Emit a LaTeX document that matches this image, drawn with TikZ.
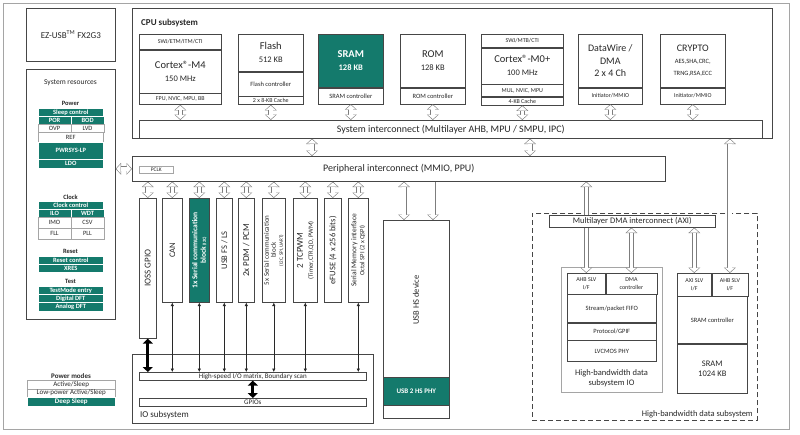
\documentclass[tikz,border=0pt]{standalone}
\usepackage{fontspec}
\setmainfont{Carlito}
\usepackage{tikz}
\usetikzlibrary{positioning,arrows.meta}
\definecolor{ifxteal}{RGB}{20,122,108}
\definecolor{linegray}{RGB}{70,70,70}
\definecolor{framegray}{RGB}{165,165,165}
\definecolor{textgray}{RGB}{40,40,40}
\definecolor{arrowgray}{RGB}{125,125,125}
\newcommand{\setfs}[2]{\fontsize{#1}{#2}\selectfont}
\newcommand{\regmark}{\textregistered}

\begin{document}
\begin{tikzpicture}[x=1pt, y=-1pt,
    blk/.style={draw=linegray, fill=white, line width=0.6pt, inner sep=0pt, anchor=north west, align=center, text=textgray, font=\setfs{6.5}{7.5}},
    sz/.style 2 args={minimum width=#1pt, minimum height=#2pt},
    tealrow/.style={blk, draw=white, fill=ifxteal, text=white, font=\bfseries\setfs{6.5}{7.5}},
    whiterow/.style={blk, draw=framegray, line width=0.5pt},
    lbl/.style={inner sep=0pt, text=textgray, align=center},
    rotlbl/.style={lbl, rotate=90},
    head/.style={lbl, font=\bfseries\setfs{6.5}{7.5}},
    hollow/.style={draw=arrowgray, line width=5pt,
        {Triangle[width=12pt,length=5.5pt,line width=0pt]}-{Triangle[width=12pt,length=5.5pt,line width=0pt]},
        postaction={draw=white, line width=3.6pt,
        {Triangle[width=9.6pt,length=4.2pt,line width=0pt]}-{Triangle[width=9.6pt,length=4.2pt,line width=0pt]},
        shorten <=0.9pt, shorten >=0.9pt}},
    hollowdown/.style={draw=arrowgray, line width=5pt,
        -{Triangle[width=12pt,length=5.5pt,line width=0pt]},
        postaction={draw=white, line width=3.6pt,
        -{Triangle[width=9.6pt,length=4.2pt,line width=0pt]},
        shorten <=0.3pt, shorten >=0.9pt}},
    fatarrow/.style={line width=3.2pt, {Triangle[width=10pt,length=5pt]}-{Triangle[width=10pt,length=5pt]}},
    thinarrow/.style={draw=textgray, line width=0.5pt, {Latex[length=3.5pt,width=3.5pt]}-{Latex[length=3.5pt,width=3.5pt]}}
]
\useasboundingbox (0,0) rectangle (800,434);
\node[blk, sz={786}{426}, draw=framegray, fill=none] (chip) at (3,3) {};

% left column
\node[blk, sz={89}{53}, font=\setfs{9}{10}] (ezusb) at (26,8) {EZ-USB\textsuperscript{TM} FX2G3};
\node[blk, sz={89}{250}] (sysres) at (26,69) {};
\node[lbl, font=\setfs{7.5}{8}] (sysrest) at (70.5,83) {System resources};

\node[head] (powert) at (70.5,103) {Power};
\node[tealrow, sz={65}{8}] (sleep) at (38,108) {Sleep control};
\node[tealrow, sz={32.5}{8}] (por) at (38,116) {POR};
\node[tealrow, sz={32.5}{8}, right=0pt of por] (bod) {BOD};
\node[whiterow, sz={32.5}{8}] (ovp) at (38,124) {OVP};
\node[whiterow, sz={32.5}{8}, right=0pt of ovp] (lvd) {LVD};
\node[whiterow, sz={65}{10}] (ref) at (38,132) {REF};
\node[tealrow, sz={65}{17}] (pwrsys) at (38,142) {PWRSYS-LP};
\node[tealrow, sz={65}{9}] (ldo) at (38,159) {LDO};

\node[head] (clockt) at (70.5,197) {Clock};
\node[tealrow, sz={65}{8}] (clkctl) at (38,201) {Clock control};
\node[tealrow, sz={32.5}{8}] (ilo) at (38,209) {ILO};
\node[tealrow, sz={32.5}{8}, right=0pt of ilo] (wdt) {WDT};
\node[whiterow, sz={32.5}{11}] (imo) at (38,217) {IMO};
\node[whiterow, sz={32.5}{11}, right=0pt of imo] (csv) {CSV};
\node[whiterow, sz={32.5}{11}] (fll) at (38,228) {FLL};
\node[whiterow, sz={32.5}{11}, right=0pt of fll] (pll) {PLL};

\node[head] (resett) at (70.5,251) {Reset};
\node[tealrow, sz={65}{8}] (rstctl) at (38,256) {Reset control};
\node[tealrow, sz={65}{8}] (xres) at (38,264) {XRES};

\node[head] (testt) at (70.5,281) {Test};
\node[tealrow, sz={65}{8}] (tmode) at (38,286) {TestMode entry};
\node[tealrow, sz={65}{8}] (ddft) at (38,294) {Digital DFT};
\node[tealrow, sz={65}{9}] (adft) at (38,302) {Analog DFT};

\node[head, font=\bfseries\setfs{7}{8}] (pmodest) at (71,376) {Power modes};
\node[whiterow, sz={88}{8.5}, font=\setfs{7}{8}] (active) at (27,380) {Active/Sleep};
\node[whiterow, sz={88}{8.5}, font=\setfs{7}{8}] (lpactive) at (27,388.5) {Low-power Active/Sleep};
\node[tealrow, sz={88}{9}, font=\bfseries\setfs{7}{8}] (deep) at (27,397) {Deep Sleep};

% CPU subsystem
\node[blk, sz={640}{130}] (cpu) at (132,8) {};
\node[lbl, anchor=west, font=\bfseries\setfs{9}{10}] (cput) at (141,23) {CPU subsystem};

\node[blk, sz={82}{15}, font=\setfs{6}{7}] (m4a) at (139,34) {SWJ/ETM/ITM/CTI};
\node[blk, sz={82}{43}, below=0pt of m4a, font=\setfs{10.5}{13}] (m4) {Cortex\regmark-M4\\{\setfs{8.5}{10}150 MHz}};
\node[blk, sz={82}{11}, below=0pt of m4, font=\setfs{6}{7}] (m4c) {FPU, NVIC, MPU, BB};

\node[blk, sz={65}{37}, font=\setfs{10.5}{13}] (flash) at (238,34) {Flash\\{\setfs{8.5}{10}512 KB}};
\node[blk, sz={65}{24}, below=0pt of flash] (flashc) {Flash controller};
\node[blk, sz={65}{8}, below=0pt of flashc, font=\setfs{6}{7}] (flashk) {2 x 8-KB Cache};

\node[blk, sz={65}{53}, fill=ifxteal, text=white, font=\bfseries\setfs{10.5}{13}] (sram) at (318,34) {SRAM\\{\setfs{8.5}{10}128 KB}};
\node[blk, sz={65}{16}, below=0pt of sram] (sramc) {SRAM controller};

\node[blk, sz={65}{53}, font=\setfs{10.5}{13}] (rom) at (400,34) {ROM\\{\setfs{8.5}{10}128 KB}};
\node[blk, sz={65}{16}, below=0pt of rom] (romc) {ROM controller};

\node[blk, sz={82}{13}, font=\setfs{6}{7}] (m0a) at (481,34) {SWJ/MTB/CTI};
\node[blk, sz={82}{36}, below=0pt of m0a, font=\setfs{10.5}{13}] (m0) {Cortex\regmark-M0+\\{\setfs{8.5}{10}100 MHz}};
\node[blk, sz={82}{12}, below=0pt of m0, font=\setfs{6}{7}] (m0c) {MUL, NVIC, MPU};
\node[blk, sz={82}{8}, below=0pt of m0c, font=\setfs{6}{7}] (m0k) {4-KB Cache};

\node[blk, sz={64}{53}, font=\setfs{10}{12.5}] (dw) at (578,34) {DataWire /\\DMA\\2 x 4 Ch};
\node[blk, sz={64}{16}, below=0pt of dw, font=\setfs{6}{7}] (dwc) {Initiator/MMIO};

\node[blk, sz={65}{53}, font=\setfs{10}{12}] (crypto) at (660,34) {CRYPTO\\{\setfs{6.5}{10}AES,SHA,CRC,}\\{\setfs{6.5}{9}TRNG,RSA,ECC}};
\node[blk, sz={65}{16}, below=0pt of crypto, font=\setfs{6}{7}] (cryptoc) {Initiator/MMIO};

\node[blk, sz={623}{18}, font=\setfs{10}{11}] (sysic) at (139,120) {System interconnect (Multilayer AHB, MPU / SMPU, IPC)};
\node[blk, sz={533}{25}, font=\setfs{10}{11}] (periph) at (132,156) {Peripheral interconnect (MMIO, PPU)};
\node[blk, sz={34}{7}, draw=framegray, line width=0.5pt, font=\setfs{5.5}{6}] (pclk) at (139,166) {PCLK};

% peripherals
\node[blk, sz={17}{140}] (ioss) at (139,198) {};
\node[blk, sz={20}{104}] (can) at (162,198) {};
\node[blk, sz={20}{104}, fill=ifxteal] (scb1) at (189,198) {};
\node[blk, sz={16}{104}] (usbfs) at (216,198) {};
\node[blk, sz={16}{104}] (pdm) at (238,198) {};
\node[blk, sz={23}{104}] (scb5) at (262,198) {};
\node[blk, sz={24}{104}] (tcpwm) at (293,198) {};
\node[blk, sz={17}{104}] (efuse) at (324,198) {};
\node[blk, sz={20}{104}] (smif) at (348,198) {};

\node[rotlbl, font=\setfs{9}{10}] (iosst) at (ioss) {IOSS GPIO};
\node[rotlbl, font=\setfs{8.5}{10}] (cant) at (can) {CAN};
\node[rotlbl, text=white, font=\bfseries\setfs{7.5}{8.5}] (scb1t) at (scb1) {1x Serial communication\\block {\setfs{4.5}{5}(I2C)}};
\node[rotlbl, font=\setfs{8.5}{10}] (usbfst) at (usbfs) {USB FS / LS};
\node[rotlbl, font=\setfs{9}{10}] (pdmt) at (pdm) {2x PDM / PCM};
\node[rotlbl, font=\setfs{7}{7}] (scb5t) at (scb5) {5x Serial communication\\block\\{\setfs{5}{6}(I2C, SPI, UART)}};
\node[rotlbl, font=\setfs{9}{10}] (tcpwmt) at (tcpwm) {2 TCPWM\\{\setfs{6.5}{8}(Timer,CTR,QD, PWM)}};
\node[rotlbl, font=\setfs{8.5}{10}] (efuset) at (efuse) {eFUSE (4 x 256 bits)};
\node[rotlbl, font=\setfs{7.5}{8}] (smift) at (smif) {Serial Memory interface\\{\setfs{6.5}{8}Octal SPI (2 x QSPI)}};

% IO subsystem
\node[blk, sz={241}{69}] (iosub) at (132,354) {};
\node[lbl, anchor=west, font=\setfs{9}{10}] (iosubt) at (140,415) {IO subsystem};
\node[blk, sz={227}{8}, font=\setfs{7}{8}] (hsm) at (139,372) {High-speed I/O matrix, Boundary scan};
\node[blk, sz={227}{8}, font=\setfs{7}{8}] (gpios) at (139,398) {GPIOs};

% USB HS device
\node[blk, sz={66}{198}] (usbhs) at (383,220) {};
\node[rotlbl, font=\setfs{8.5}{10}] (usbhst) at (416,300) {USB HS device};
\node[blk, sz={66}{28}, fill=ifxteal, text=white, font=\bfseries\setfs{7}{8}] (usbphy) at (383,377) {USB 2 HS PHY};

% high-bandwidth data subsystem
\node[blk, sz={225}{207}, fill=none, dash pattern=on 5pt off 3pt, line width=0.7pt] (hbw) at (532,213) {};
\node[lbl, anchor=south east, font=\setfs{8.5}{10}] (hbwt) at (753,418) {High-bandwidth data subsystem};

\node[blk, sz={101}{125}, draw=framegray, fill=none] (hbwio) at (561,267) {};
\node[blk, sz={38}{21}, font=\setfs{6}{7.5}] (ahbl) at (567,273) {AHB SLV\\I/F};
\node[blk, sz={51}{21}, right=0pt of ahbl, font=\setfs{6}{7.5}] (dmac) {DMA\\controller};
\node[blk, sz={89}{28}] (fifo) at (567,294) {Stream/packet FIFO};
\node[blk, sz={89}{17}, below=0pt of fifo] (proto) {Protocol/GPIF};
\node[blk, sz={89}{21}, below=0pt of proto] (lvcmos) {LVCMOS PHY};
\node[lbl, font=\setfs{8.5}{10}] (hbwiot) at (611.5,378) {High-bandwidth data\\subsystem IO};

\node[blk, sz={34}{23}, font=\setfs{6}{7.5}] (axis) at (677,273) {AXI SLV\\I/F};
\node[blk, sz={36}{23}, right=0pt of axis, font=\setfs{6}{7.5}] (ahbr) {AHB SLV\\I/F};
\node[blk, sz={70}{47}] (sramc2) at (677,296) {SRAM controller};
\node[blk, sz={70}{49}, below=0pt of sramc2, font=\setfs{8.5}{10}] (sram2) {SRAM\\1024 KB};

% connectors
\foreach \b in {m4c,flashk,sramc,romc,m0k,dwc,cryptoc}
    \draw[hollow] (\b.south) -- (\b.south |- sysic.north);
\coordinate (sp1) at ([xshift=173pt]sysic.south west);
\coordinate (sp2) at ([xshift=391pt]sysic.south west);
\draw[hollow] (sp1) -- (sp1 |- periph.north);
\draw[hollow] (sp2) -- (sp2 |- periph.north);
\draw[hollow] (periph.west) -- (periph.west -| sysres.east);
\foreach \b in {ioss,can,scb1,usbfs,pdm,scb5,tcpwm,efuse,smif}
    \draw[hollow] (\b.north) -- (\b.north |- periph.south);
\coordinate (usbin1) at ([xshift=21pt]usbhs.north west);
\coordinate (usbin2) at ([xshift=50pt]usbhs.north west);
\draw[hollow] (usbin1) -- (usbin1 |- periph.south);
\draw[hollowdown] (usbin2 |- periph.south) -- (usbin2);
\draw[hollow] (ahbl.north) -- (ahbl.north |- periph.south);
\draw[hollow] (ahbr.north) -- (ahbr.north |- sysic.south);

\node[blk, sz={166}{12}, font=\setfs{8.5}{10}] (axi) at (549,215) {Multilayer DMA interconnect (AXI)};
\draw[hollow] (dmac.north) -- (dmac.north |- axi.south);
\draw[hollow] (axis.north) -- (axis.north |- axi.south);

\draw[fatarrow] (ioss.south) -- (ioss.south |- hsm.north);
\draw[fatarrow] (hsm.south) -- (gpios.north);
\foreach \b in {can,scb1,usbfs,pdm,scb5,tcpwm,smif}
    \draw[thinarrow] (\b.south) -- (\b.south |- hsm.north);
\end{tikzpicture}
\end{document}
